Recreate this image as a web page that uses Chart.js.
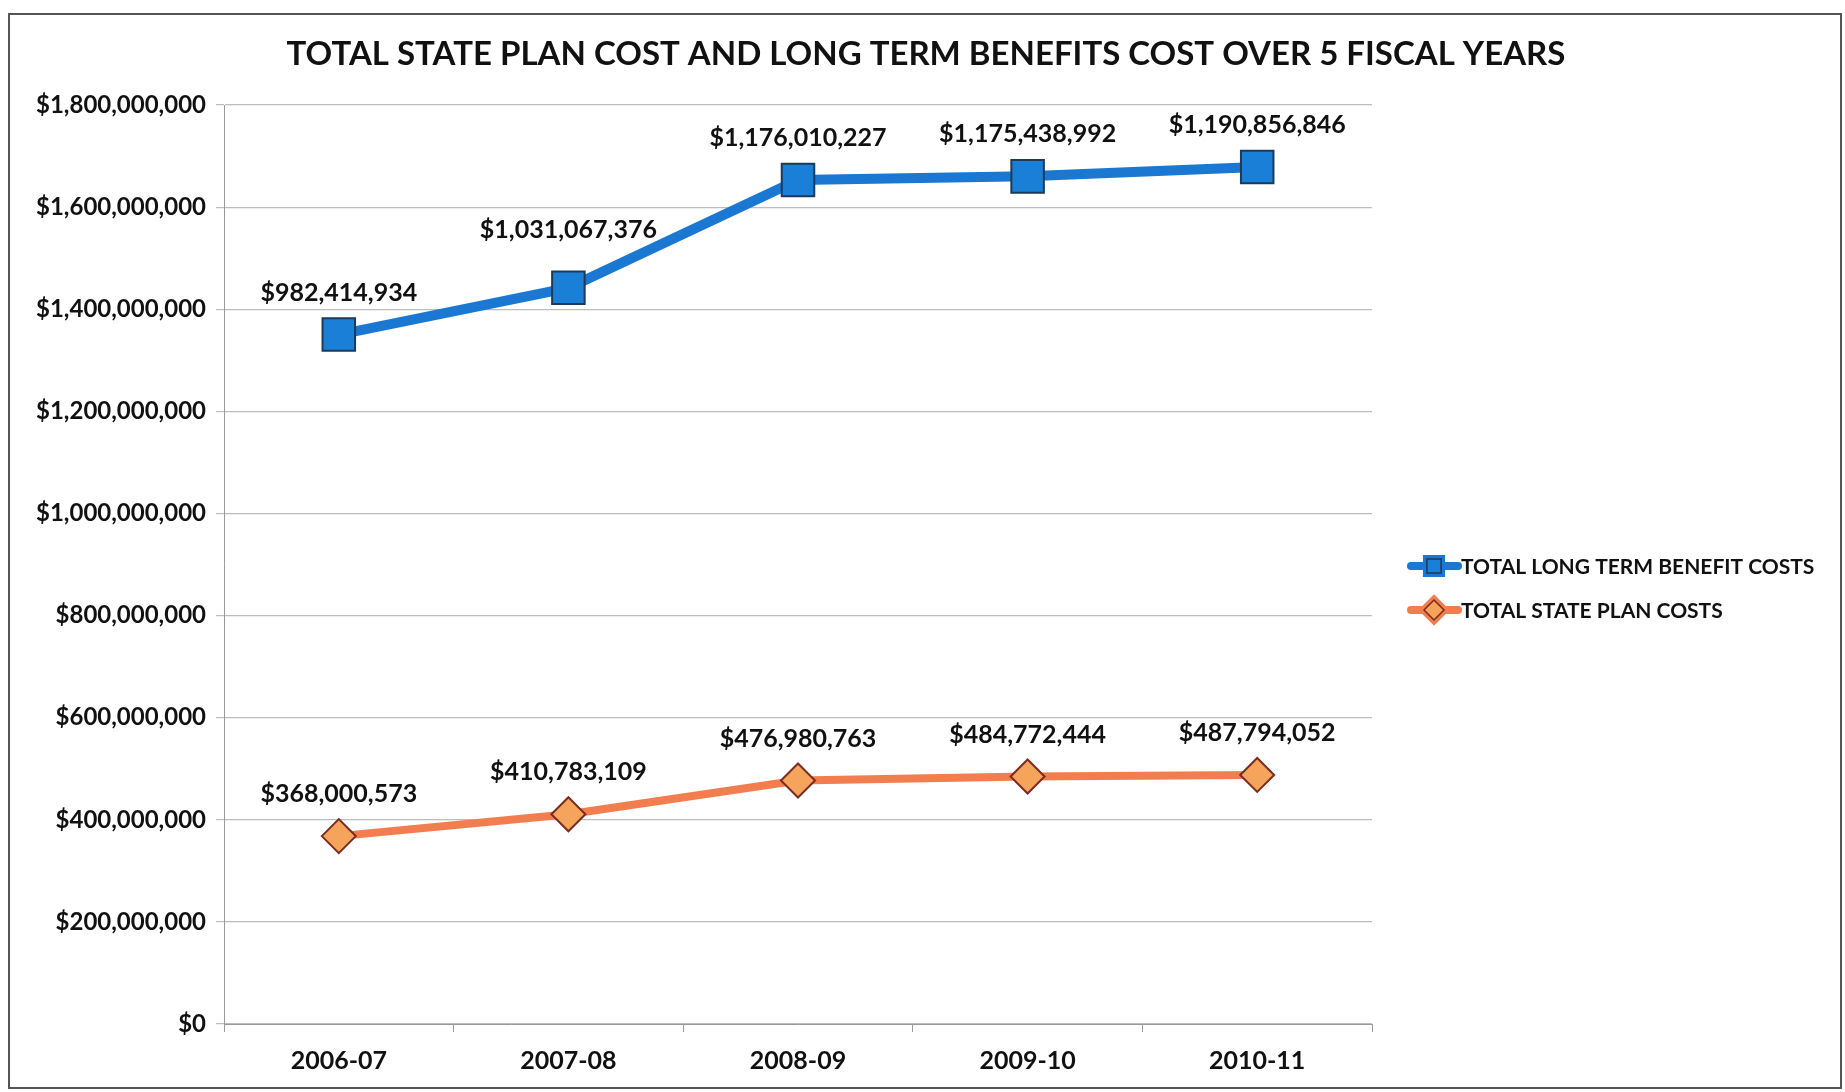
<!DOCTYPE html>
<html>
<head>
<meta charset="utf-8">
<script src="https://cdn.jsdelivr.net/npm/chart.js@4"></script>
<style>
  html, body { margin: 0; padding: 0; background: #fff; }
  #wrap { width: 1845px; height: 1092px; position: relative; }
</style>
</head>
<body>
<div id="wrap"><canvas id="myChart" width="1845" height="1092"></canvas></div>
<script>
const years = ['2006-07', '2007-08', '2008-09', '2009-10', '2010-11'];
const statePlanCosts = [368000573, 410783109, 476980763, 484772444, 487794052];
const longTermCosts = [982414934, 1031067376, 1176010227, 1175438992, 1190856846];
const yTicks = [0, 200000000, 400000000, 600000000, 800000000, 1000000000, 1200000000, 1400000000, 1600000000, 1800000000];
const chartTitle = 'TOTAL STATE PLAN COST AND LONG TERM BENEFITS COST OVER 5 FISCAL YEARS';

const FONT = 'Lato, "DejaVu Sans", sans-serif';

function money(v) {
    return '$' + Math.round(v).toLocaleString('en-US');
}

// value labels above each point (own value, not the stacked total)
const valueLabels = {
    id: 'valueLabels',
    afterDatasetsDraw(chart) {
        const ctx = chart.ctx;
        ctx.save();
        ctx.font = 'bold 25px ' + FONT;
        ctx.fillStyle = '#111';
        ctx.textAlign = 'center';
        ctx.textBaseline = 'middle';
        chart.data.datasets.forEach((ds, i) => {
            const meta = chart.getDatasetMeta(i);
            meta.data.forEach((pt, j) => {
                // the 2007-08 blue label sits higher so it clears the rising line
                const lift = (i === 1 && j === 1) ? 58 : 42;
                ctx.fillText(money(ds.data[j]), pt.x, pt.y - lift);
            });
        });
        ctx.restore();
    }
};

// outer frame, title across the whole frame, legend with line + marker
const frameAndLegend = {
    id: 'frameAndLegend',
    afterDraw(chart) {
        const ctx = chart.ctx;
        ctx.save();
        ctx.strokeStyle = '#555';
        ctx.lineWidth = 2;
        ctx.strokeRect(9, 14, 1832, 1074);

        ctx.fillStyle = '#111';
        ctx.font = 'bold 33px ' + FONT;
        ctx.textAlign = 'center';
        ctx.textBaseline = 'middle';
        ctx.fillText(chartTitle, 926, 54);

        const items = [
            { text: 'TOTAL LONG TERM BENEFIT COSTS', ds: chart.data.datasets[1], y: 566 },
            { text: 'TOTAL STATE PLAN COSTS', ds: chart.data.datasets[0], y: 610 }
        ];
        items.forEach(it => {
            ctx.strokeStyle = it.ds.borderColor;
            ctx.lineWidth = 8;
            ctx.lineCap = 'round';
            ctx.beginPath();
            ctx.moveTo(1411, it.y);
            ctx.lineTo(1458, it.y);
            ctx.stroke();
            Chart.helpers.drawPoint(ctx, {
                pointStyle: it.ds.pointStyle,
                radius: 10,
                borderWidth: 1.5
            }, 1434, it.y);
            ctx.fillStyle = it.ds.pointBackgroundColor;
            ctx.strokeStyle = it.ds.pointBorderColor;
            ctx.lineWidth = 1.5;
            ctx.fill();
            ctx.stroke();
            ctx.fillStyle = '#111';
            ctx.font = 'bold 21px ' + FONT;
            ctx.textAlign = 'left';
            ctx.textBaseline = 'middle';
            ctx.fillText(it.text, 1461, it.y + 1);
        });
        ctx.restore();
    }
};

const ctx = document.getElementById('myChart').getContext('2d');
const myChart = new Chart(ctx, {
    type: 'line',
    data: {
        labels: years,
        datasets: [{
            label: 'TOTAL STATE PLAN COSTS',
            data: statePlanCosts,
            borderColor: '#f27e4f',
            borderWidth: 8,
            pointStyle: 'rectRot',
            pointRadius: 17,
            pointBackgroundColor: '#f6a45c',
            pointBorderColor: '#7a2b22',
            pointBorderWidth: 2,
            tension: 0,
            fill: false
        }, {
            label: 'TOTAL LONG TERM BENEFIT COSTS',
            data: longTermCosts,
            borderColor: '#1a78d2',
            borderWidth: 10,
            pointStyle: 'rect',
            pointRadius: 23,
            pointBackgroundColor: '#1a7fd6',
            pointBorderColor: '#1d3a5a',
            pointBorderWidth: 2,
            tension: 0,
            fill: false
        }]
    },
    options: {
        responsive: false,
        animation: false,
        layout: { padding: { top: 105, right: 473, bottom: 2, left: 20 } },
        plugins: {
            legend: { display: false },
            tooltip: { enabled: false },
            title: { display: false }
        },
        scales: {
            x: {
                offset: true,
                grid: { offset: true, drawOnChartArea: false, tickLength: 8, color: '#999' },
                border: { color: '#999', width: 1 },
                ticks: {
                    color: '#111',
                    font: { family: FONT, size: 25, weight: 'bold' },
                    padding: 14
                }
            },
            y: {
                stacked: true,
                min: 0,
                max: 1800000000,
                afterBuildTicks(scale) {
                    scale.ticks = yTicks.map(v => ({ value: v }));
                },
                afterFit(scale) { scale.width = 204; },
                grid: { color: '#bdbdbd', lineWidth: 1.2, tickLength: 8 },
                border: { color: '#999', width: 1 },
                ticks: {
                    color: '#111',
                    font: { family: FONT, size: 24, weight: 'bold' },
                    padding: 10,
                    callback: v => money(v)
                }
            }
        }
    },
    plugins: [valueLabels, frameAndLegend]
});
</script>
</body>
</html>
